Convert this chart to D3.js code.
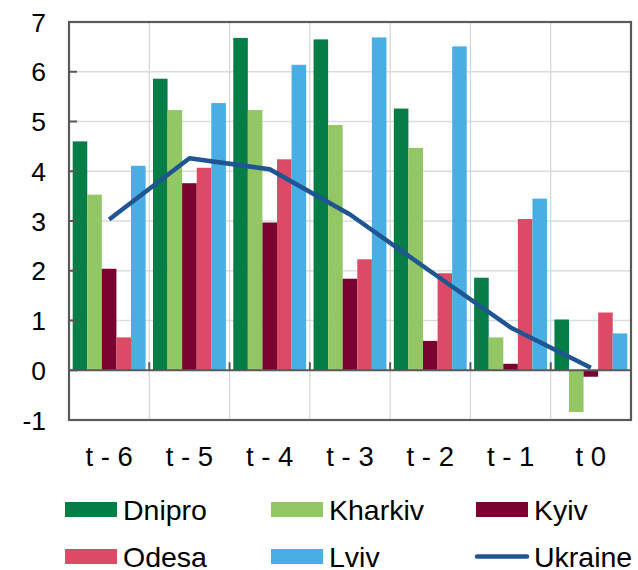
<!DOCTYPE html>
<html>
<head>
<meta charset="utf-8">
<script src="https://cdn.jsdelivr.net/npm/d3@7/dist/d3.min.js"></script>
<style>
  html, body { margin: 0; padding: 0; background: #fff; }
  svg { display: block; font-family: "Liberation Sans", Arial, sans-serif; }
</style>
</head>
<body>
<svg id="chart" width="638" height="570"></svg>
<script>
const categories = ["t - 6", "t - 5", "t - 4", "t - 3", "t - 2", "t - 1", "t 0"];
const seriesNames = ["Dnipro", "Kharkiv", "Kyiv", "Odesa", "Lviv"];
const dnipro  = [4.60, 5.86, 6.68, 6.65, 5.26, 1.86, 1.02];
const kharkiv = [3.53, 5.23, 5.23, 4.93, 4.47, 0.66, -0.84];
const kyiv    = [2.04, 3.76, 2.97, 1.84, 0.59, 0.13, -0.13];
const odesa   = [0.66, 4.07, 4.24, 2.23, 1.95, 3.04, 1.16];
const lviv    = [4.11, 5.37, 6.14, 6.69, 6.51, 3.45, 0.74];
const ukraine = [3.03, 4.26, 4.04, 3.13, 1.99, 0.86, 0.05];
const yTicks  = [-1, 0, 1, 2, 3, 4, 5, 6, 7];
const lineName = "Ukraine";

const seriesValues = [dnipro, kharkiv, kyiv, odesa, lviv];
const colors = ["#047d46", "#93c765", "#7a0431", "#db4b65", "#48aee4"];
const lineColor = "#1f5591";

const svg = d3.select("#chart");
const L = 69, R = 631, T = 22, B = 420;

const x0 = d3.scaleBand().domain(categories).range([L, R]).padding(0);
const bw = x0.bandwidth();
const x1 = d3.scaleBand().domain(seriesNames).range([bw * 0.046, bw * 0.954]).padding(0);
const y = d3.scaleLinear().domain([-1, 7]).range([B, T]);

// horizontal gridlines
svg.append("g").selectAll("line").data(yTicks).join("line")
  .attr("x1", L).attr("x2", R)
  .attr("y1", d => y(d)).attr("y2", d => y(d))
  .attr("stroke", "#dadddd").attr("stroke-width", 1.5);

// vertical gridlines at category boundaries
svg.append("g").selectAll("line").data(categories.slice(1)).join("line")
  .attr("x1", d => x0(d)).attr("x2", d => x0(d))
  .attr("y1", T).attr("y2", B)
  .attr("stroke", "#d3d6d6").attr("stroke-width", 1.2);

// bars
const groups = svg.append("g").selectAll("g").data(categories).join("g")
  .attr("transform", d => `translate(${x0(d)},0)`);
groups.selectAll("rect")
  .data((c, i) => seriesNames.map((s, j) => ({ s, j, v: seriesValues[j][i] })))
  .join("rect")
  .attr("x", d => x1(d.s))
  .attr("width", x1.bandwidth())
  .attr("y", d => y(Math.max(0, d.v)))
  .attr("height", d => Math.abs(y(d.v) - y(0)))
  .attr("fill", d => colors[d.j]);

// zero line
svg.append("line")
  .attr("x1", L).attr("x2", R).attr("y1", y(0)).attr("y2", y(0))
  .attr("stroke", "#595959").attr("stroke-width", 2);

// x ticks on zero line (upward)
svg.append("g").selectAll("line").data(categories.slice(1)).join("line")
  .attr("x1", d => x0(d)).attr("x2", d => x0(d))
  .attr("y1", y(0)).attr("y2", y(0) - 8)
  .attr("stroke", "#595959").attr("stroke-width", 2);

// y ticks (inward)
svg.append("g").selectAll("line").data(yTicks).join("line")
  .attr("x1", L).attr("x2", L + 8)
  .attr("y1", d => y(d)).attr("y2", d => y(d))
  .attr("stroke", "#595959").attr("stroke-width", 2);

// frame
svg.append("rect")
  .attr("x", L).attr("y", T).attr("width", R - L).attr("height", B - T)
  .attr("fill", "none").attr("stroke", "#595959").attr("stroke-width", 2.2);

// Ukraine line
const line = d3.line()
  .x((d, i) => x0(categories[i]) + bw / 2)
  .y(d => y(d));
svg.append("path").datum(ukraine)
  .attr("d", line)
  .attr("fill", "none").attr("stroke", lineColor).attr("stroke-width", 4.5)
  .attr("stroke-linejoin", "round");

// y labels
svg.append("g").selectAll("text").data(yTicks).join("text")
  .attr("x", 46).attr("y", d => y(d)).attr("dy", "0.36em")
  .attr("text-anchor", "end").attr("font-size", 26.5).attr("fill", "#000")
  .text(d => d);

// x labels
svg.append("g").selectAll("text").data(categories).join("text")
  .attr("x", d => x0(d) + bw / 2).attr("y", 466)
  .attr("text-anchor", "middle").attr("font-size", 27.5).attr("fill", "#000")
  .text(d => d);

// legend
const legendItems = seriesNames.map((s, j) => ({ name: s, color: colors[j], type: "rect" }))
  .concat([{ name: lineName, color: lineColor, type: "line" }]);
const colX = [65, 271, 476];
const rowY = [509.5, 556.5];
const lg = svg.append("g").selectAll("g").data(legendItems).join("g")
  .attr("transform", (d, i) => `translate(${colX[i % 3]},${rowY[Math.floor(i / 3)]})`);
lg.filter(d => d.type === "rect").append("rect")
  .attr("x", 0).attr("y", -7.5).attr("width", 52).attr("height", 15)
  .attr("fill", d => d.color);
lg.filter(d => d.type === "line").append("line")
  .attr("x1", 1).attr("x2", 51).attr("y1", 0).attr("y2", 0)
  .attr("stroke", d => d.color).attr("stroke-width", 4.5).attr("stroke-linecap", "round");
lg.append("text")
  .attr("x", 58).attr("y", 0).attr("dy", "0.36em")
  .attr("font-size", 28.5).attr("fill", "#000")
  .text(d => d.name);
</script>
</body>
</html>
